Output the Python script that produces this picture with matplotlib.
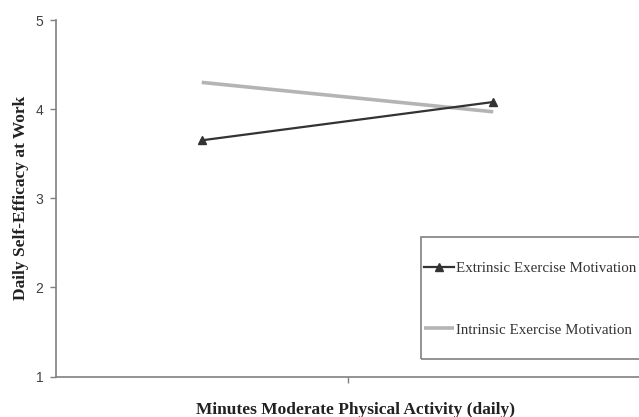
import numpy as np
import matplotlib.pyplot as plt
from matplotlib.patches import Rectangle

categories = ["Low", "High"]
extrinsic = [3.65, 4.08]
intrinsic = [4.30, 3.97]
yticks = [1, 2, 3, 4, 5]

W, H = 639, 417
fig = plt.figure(figsize=(6.39, 4.17), dpi=100)
ax = fig.add_axes([56/W, 1 - 376.5/H, 1 - 56/W, (376.5 - 20)/H])

x = np.arange(len(categories))
ax.plot(x, intrinsic, color='#b4b4b4', lw=2.6, solid_capstyle='butt',
        label='Intrinsic Exercise Motivation', zorder=2)
ax.plot(x, extrinsic, color='#333333', lw=1.6, marker='^', markersize=6,
        label='Extrinsic Exercise Motivation', zorder=3)

ax.set_xlim(-0.5, 1.5)
ax.set_ylim(1, 5)
ax.set_yticks(yticks)
ax.set_xticks([0.5])
ax.set_xticklabels([''])

for s in ['top', 'right']:
    ax.spines[s].set_visible(False)
for s in ['left', 'bottom']:
    ax.spines[s].set_color('#808080')
    ax.spines[s].set_linewidth(1.2)
ax.tick_params(axis='y', colors='#808080', length=4, width=1, labelsize=10,
               labelcolor='#404040', pad=5)
ax.tick_params(axis='x', colors='#808080', length=4, width=1)
for lab in ax.get_yticklabels():
    lab.set_family('Liberation Sans')

ax.set_ylabel('Daily Self-Efficacy at Work', family='Liberation Serif',
              fontweight='bold', fontsize=12.5, color='#222222', labelpad=5)
ax.set_xlabel('Minutes Moderate Physical Activity (daily)', family='Liberation Serif',
              fontweight='bold', fontsize=12.5, color='#222222', labelpad=11)
ax.xaxis.label.set_x(0.514)

# legend box
fig.patches.append(Rectangle((421/W, 1 - 359/H), 240/W, 122/H, transform=fig.transFigure,
                             fill=False, edgecolor='#808080', lw=1.2))

h, l = ax.get_legend_handles_labels()
leg = fig.legend(h[::-1], l[::-1], loc='upper left',
                 bbox_to_anchor=(424/W, 1 - 261.5/H),
                 prop={'family': 'Liberation Serif', 'size': 10.8},
                 frameon=False, borderpad=0, labelspacing=3.2,
                 handlelength=2.0, handletextpad=0.12, borderaxespad=0)
for t in leg.get_texts():
    t.set_color('#333333')

fig.savefig('out.png', dpi=100, facecolor='white')
